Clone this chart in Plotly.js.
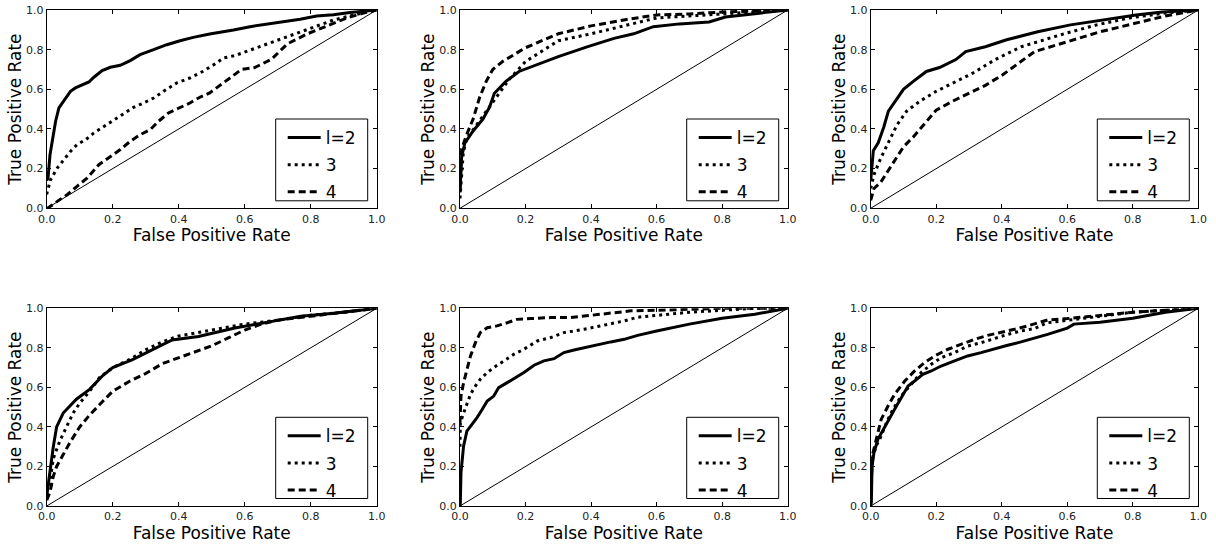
<!DOCTYPE html>
<html>
<head>
<meta charset="utf-8">
<script src="https://cdn.plot.ly/plotly-3.0.1.min.js"></script>
<style>html,body{margin:0;padding:0;background:#fff;}#chart{width:1216px;height:544px;}</style>
</head>
<body>
<div id="chart"></div>
<script>
// Series labels
const seriesNames = ['l=2', '3', '4'];
const tickVals = [0, 0.2, 0.4, 0.6, 0.8, 1.0];
const tickText = ['0.0', '0.2', '0.4', '0.6', '0.8', '1.0'];
const xTitle = 'False Positive Rate';
const yTitle = 'True Positive Rate';
const diagX = [0, 1];
const diagY = [0, 1];

// Panel 1 (top left)
const p1_l2_x = [0, 0.004, 0.010, 0.017, 0.027, 0.037, 0.047, 0.057, 0.072, 0.087, 0.108, 0.128, 0.143, 0.168, 0.193, 0.223, 0.253, 0.283, 0.324, 0.364, 0.404, 0.444, 0.494, 0.535, 0.566, 0.616, 0.667, 0.717, 0.768, 0.818, 0.869, 0.919, 0.97, 1];
const p1_l2_y = [0.14, 0.153, 0.27, 0.338, 0.439, 0.506, 0.531, 0.556, 0.590, 0.607, 0.624, 0.637, 0.661, 0.694, 0.711, 0.721, 0.745, 0.775, 0.800, 0.825, 0.845, 0.862, 0.879, 0.889, 0.899, 0.916, 0.929, 0.941, 0.953, 0.970, 0.976, 0.987, 0.995, 1];
const p1_l3_x = [0, 0.002, 0.012, 0.032, 0.052, 0.072, 0.092, 0.118, 0.143, 0.173, 0.203, 0.233, 0.263, 0.293, 0.324, 0.354, 0.394, 0.434, 0.474, 0.515, 0.535, 0.57, 0.67, 0.77, 0.82, 0.87, 0.93, 1];
const p1_l3_y = [0.07, 0.086, 0.145, 0.203, 0.245, 0.287, 0.321, 0.346, 0.380, 0.413, 0.447, 0.476, 0.509, 0.531, 0.556, 0.590, 0.632, 0.657, 0.691, 0.733, 0.758, 0.77, 0.83, 0.89, 0.92, 0.95, 0.975, 1];
const p1_l4_x = [0, 0.007, 0.032, 0.062, 0.092, 0.123, 0.158, 0.193, 0.223, 0.253, 0.283, 0.314, 0.339, 0.369, 0.404, 0.434, 0.464, 0.494, 0.535, 0.59, 0.63, 0.68, 0.73, 0.79, 0.85, 0.91, 0.97, 1];
const p1_l4_y = [0, 0.005, 0.035, 0.069, 0.111, 0.153, 0.220, 0.262, 0.296, 0.338, 0.371, 0.397, 0.439, 0.481, 0.506, 0.531, 0.560, 0.582, 0.632, 0.70, 0.71, 0.75, 0.83, 0.88, 0.92, 0.96, 0.99, 1];

// Panel 2 (top middle)
const p2_l2_x = [0, 0.002, 0.005, 0.015, 0.04, 0.07, 0.09, 0.105, 0.14, 0.18, 0.23, 0.30, 0.39, 0.47, 0.53, 0.59, 0.67, 0.76, 0.81, 0.9, 1];
const p2_l2_y = [0.08, 0.2, 0.26, 0.33, 0.39, 0.45, 0.51, 0.58, 0.64, 0.69, 0.72, 0.765, 0.815, 0.857, 0.88, 0.916, 0.93, 0.94, 0.965, 0.98, 1];
const p2_l3_x = [0, 0.01, 0.02, 0.05, 0.08, 0.11, 0.15, 0.2, 0.3, 0.4, 0.5, 0.6, 0.7, 0.8, 0.9, 1];
const p2_l3_y = [0.05, 0.28, 0.35, 0.42, 0.49, 0.56, 0.65, 0.74, 0.845, 0.88, 0.92, 0.96, 0.97, 0.98, 0.99, 1];
const p2_l4_x = [0, 0.005, 0.02, 0.04, 0.06, 0.08, 0.1, 0.13, 0.18, 0.2, 0.3, 0.4, 0.5, 0.6, 0.7, 0.8, 0.9, 1];
const p2_l4_y = [0.1, 0.3, 0.37, 0.45, 0.56, 0.64, 0.70, 0.74, 0.79, 0.81, 0.88, 0.92, 0.95, 0.975, 0.98, 0.99, 0.995, 1];

// Panel 3 (top right)
const p3_l2_x = [0, 0.008, 0.023, 0.04, 0.054, 0.08, 0.1, 0.13, 0.17, 0.21, 0.26, 0.29, 0.35, 0.415, 0.51, 0.61, 0.71, 0.81, 0.89, 1];
const p3_l2_y = [0.14, 0.29, 0.33, 0.41, 0.49, 0.55, 0.60, 0.64, 0.69, 0.71, 0.75, 0.79, 0.815, 0.85, 0.89, 0.925, 0.95, 0.975, 0.99, 1];
const p3_l3_x = [0, 0.01, 0.03, 0.05, 0.08, 0.11, 0.15, 0.2, 0.25, 0.31, 0.38, 0.46, 0.59, 0.69, 0.79, 0.9, 1];
const p3_l3_y = [0.1, 0.17, 0.25, 0.32, 0.42, 0.49, 0.54, 0.59, 0.63, 0.68, 0.75, 0.815, 0.88, 0.925, 0.96, 0.985, 1];
const p3_l4_x = [0, 0.01, 0.03, 0.05, 0.08, 0.1, 0.13, 0.17, 0.2, 0.25, 0.3, 0.35, 0.4, 0.45, 0.5, 0.6, 0.7, 0.8, 0.9, 1];
const p3_l4_y = [0.04, 0.1, 0.13, 0.18, 0.26, 0.31, 0.36, 0.44, 0.495, 0.54, 0.58, 0.62, 0.67, 0.73, 0.79, 0.84, 0.89, 0.93, 0.97, 1];

// Panel 4 (bottom left)
const p4_l2_x = [0, 0.01, 0.02, 0.03, 0.05, 0.09, 0.13, 0.17, 0.2, 0.26, 0.32, 0.38, 0.46, 0.57, 0.67, 0.77, 0.87, 0.97, 1];
const p4_l2_y = [0.05, 0.18, 0.30, 0.40, 0.47, 0.54, 0.59, 0.66, 0.70, 0.74, 0.79, 0.84, 0.857, 0.90, 0.93, 0.96, 0.975, 0.995, 1];
const p4_l3_x = [0, 0.01, 0.02, 0.04, 0.06, 0.08, 0.1, 0.13, 0.16, 0.2, 0.25, 0.3, 0.35, 0.4, 0.5, 0.6, 0.7, 0.8, 0.9, 1];
const p4_l3_y = [0.07, 0.13, 0.24, 0.33, 0.40, 0.47, 0.52, 0.58, 0.65, 0.70, 0.74, 0.79, 0.83, 0.86, 0.89, 0.92, 0.94, 0.965, 0.98, 1];
const p4_l4_x = [0, 0.01, 0.02, 0.03, 0.05, 0.07, 0.1, 0.13, 0.17, 0.2, 0.25, 0.3, 0.35, 0.4, 0.45, 0.5, 0.55, 0.6, 0.65, 0.7, 0.8, 0.9, 1];
const p4_l4_y = [0.03, 0.07, 0.15, 0.20, 0.26, 0.32, 0.40, 0.46, 0.53, 0.58, 0.63, 0.67, 0.72, 0.75, 0.78, 0.81, 0.85, 0.89, 0.92, 0.94, 0.96, 0.98, 1];

// Panel 5 (bottom middle)
const p5_l2_x = [0, 0.001, 0.003, 0.006, 0.011, 0.021, 0.037, 0.052, 0.068, 0.083, 0.103, 0.118, 0.144, 0.169, 0.195, 0.226, 0.256, 0.287, 0.317, 0.348, 0.379, 0.419, 0.460, 0.501, 0.542, 0.6, 0.7, 0.8, 0.9, 1];
const p5_l2_y = [0, 0.017, 0.169, 0.236, 0.304, 0.379, 0.413, 0.447, 0.489, 0.531, 0.556, 0.599, 0.624, 0.649, 0.675, 0.712, 0.734, 0.745, 0.776, 0.789, 0.801, 0.813, 0.830, 0.843, 0.863, 0.885, 0.92, 0.95, 0.97, 1];
const p5_l3_x = [0, 0.001, 0.011, 0.021, 0.032, 0.047, 0.062, 0.083, 0.103, 0.134, 0.164, 0.195, 0.236, 0.277, 0.317, 0.379, 0.440, 0.501, 0.542, 0.6, 0.7, 0.8, 0.9, 1];
const p5_l3_y = [0.3, 0.42, 0.47, 0.52, 0.565, 0.607, 0.641, 0.675, 0.70, 0.734, 0.767, 0.793, 0.835, 0.852, 0.877, 0.894, 0.914, 0.936, 0.955, 0.965, 0.98, 0.99, 1.0, 1];
const p5_l4_x = [0, 0.001, 0.003, 0.011, 0.021, 0.032, 0.047, 0.062, 0.083, 0.113, 0.144, 0.174, 0.215, 0.277, 0.338, 0.399, 0.460, 0.521, 0.6, 0.7, 0.8, 1];
const p5_l4_y = [0.42, 0.455, 0.556, 0.624, 0.691, 0.759, 0.826, 0.877, 0.902, 0.911, 0.927, 0.944, 0.948, 0.953, 0.953, 0.965, 0.978, 0.987, 0.99, 0.995, 1.0, 1];

// Panel 6 (bottom right)
const p6_l2_x = [0, 0.002, 0.004, 0.010, 0.022, 0.038, 0.053, 0.073, 0.093, 0.114, 0.134, 0.159, 0.185, 0.215, 0.256, 0.296, 0.337, 0.378, 0.418, 0.459, 0.499, 0.540, 0.6, 0.62, 0.7, 0.8, 0.9, 1];
const p6_l2_y = [0, 0.017, 0.20, 0.27, 0.337, 0.388, 0.43, 0.489, 0.548, 0.607, 0.632, 0.666, 0.683, 0.708, 0.734, 0.759, 0.776, 0.796, 0.813, 0.830, 0.847, 0.868, 0.90, 0.92, 0.93, 0.95, 0.98, 1];
const p6_l3_x = [0, 0.004, 0.017, 0.032, 0.048, 0.068, 0.093, 0.124, 0.154, 0.185, 0.215, 0.256, 0.296, 0.337, 0.378, 0.418, 0.459, 0.499, 0.540, 0.6, 0.7, 0.8, 0.9, 1];
const p6_l3_y = [0.1, 0.236, 0.304, 0.354, 0.422, 0.489, 0.556, 0.616, 0.675, 0.717, 0.750, 0.776, 0.809, 0.826, 0.847, 0.868, 0.885, 0.897, 0.927, 0.94, 0.96, 0.98, 0.99, 1];
const p6_l4_x = [0, 0.002, 0.007, 0.017, 0.032, 0.053, 0.073, 0.104, 0.134, 0.164, 0.195, 0.236, 0.276, 0.317, 0.357, 0.398, 0.439, 0.479, 0.540, 0.6, 0.7, 0.8, 0.9, 1];
const p6_l4_y = [0.1, 0.135, 0.27, 0.337, 0.438, 0.506, 0.565, 0.632, 0.683, 0.725, 0.759, 0.793, 0.818, 0.843, 0.863, 0.877, 0.894, 0.911, 0.941, 0.948, 0.965, 0.98, 0.99, 1];

const panels = [
  [[p1_l2_x, p1_l2_y], [p1_l3_x, p1_l3_y], [p1_l4_x, p1_l4_y]],
  [[p2_l2_x, p2_l2_y], [p2_l3_x, p2_l3_y], [p2_l4_x, p2_l4_y]],
  [[p3_l2_x, p3_l2_y], [p3_l3_x, p3_l3_y], [p3_l4_x, p3_l4_y]],
  [[p4_l2_x, p4_l2_y], [p4_l3_x, p4_l3_y], [p4_l4_x, p4_l4_y]],
  [[p5_l2_x, p5_l2_y], [p5_l3_x, p5_l3_y], [p5_l4_x, p5_l4_y]],
  [[p6_l2_x, p6_l2_y], [p6_l3_x, p6_l3_y], [p6_l4_x, p6_l4_y]]
];

const W = 1216, H = 544;
// plot-area pixel boxes [left, right, top, bottom]
const boxes = [
  [46.7, 376.7, 10, 208.3], [460, 787.7, 10, 208.3], [870.7, 1198.3, 10, 208.3],
  [46.7, 376.7, 308.3, 506], [460, 787.7, 308.3, 506], [870.7, 1198.3, 308.3, 506]
];
const dashes = ['solid', '3px,4px', '7px,4px'];
const FONT = 'DejaVu Sans, sans-serif';

const traces = [];
const shapes = [];
const layout = {
  width: W, height: H,
  margin: {l: 0, r: 0, t: 0, b: 0},
  paper_bgcolor: '#fff', plot_bgcolor: '#fff',
  font: {family: FONT, color: '#000'},
  showlegend: true,
  shapes: shapes
};

panels.forEach((series, i) => {
  const n = i + 1;
  const xa = n === 1 ? 'x' : 'x' + n;
  const ya = n === 1 ? 'y' : 'y' + n;
  const lg = n === 1 ? 'legend' : 'legend' + n;
  const b = boxes[i];
  series.forEach((s, k) => {
    traces.push({
      x: s[0], y: s[1], type: 'scatter', mode: 'lines',
      name: seriesNames[k], xaxis: xa, yaxis: ya, legend: lg,
      legendgroup: 'g' + n + '_' + k,
      line: {color: '#000', width: 3, dash: dashes[k]},
      hoverinfo: 'skip'
    });
  });
  traces.push({
    x: diagX, y: diagY, type: 'scatter', mode: 'lines', xaxis: xa, yaxis: ya,
    line: {color: '#000', width: 1}, showlegend: false, hoverinfo: 'skip'
  });
  const axCommon = {
    range: [0, 1], tickmode: 'array', tickvals: tickVals, ticktext: tickText,
    ticks: 'inside', ticklen: 4, tickcolor: '#000', tickwidth: 1,
    showline: true, linecolor: '#000', linewidth: 1, mirror: 'ticks',
    showgrid: false, zeroline: false, automargin: false, fixedrange: true,
    tickfont: {family: FONT, size: 11, color: '#222'}
  };
  layout[n === 1 ? 'xaxis' : 'xaxis' + n] = Object.assign({}, axCommon, {
    domain: [b[0] / W, b[1] / W], anchor: ya,
    title: {text: xTitle, font: {family: FONT, size: 17, color: '#000'}, standoff: 0}
  });
  layout[n === 1 ? 'yaxis' : 'yaxis' + n] = Object.assign({}, axCommon, {
    domain: [1 - b[3] / H, 1 - b[2] / H], anchor: xa,
    title: {text: yTitle, font: {family: FONT, size: 17, color: '#000'}, standoff: 0}
  });
  // legend frame
  const lL = b[1] - 101, lR = b[1] - 9, lT = b[2] + 109, lB = b[3] - 7.5;
  shapes.push({
    type: 'rect', xref: 'paper', yref: 'paper', layer: 'above',
    x0: lL / W, x1: lR / W, y0: 1 - lB / H, y1: 1 - lT / H,
    fillcolor: '#fff', line: {color: '#000', width: 1}
  });
  layout[lg] = {
    x: (lL + 7) / W, y: 1 - (lT + 1) / H, xanchor: 'left', yanchor: 'top',
    bgcolor: 'rgba(0,0,0,0)', borderwidth: 0,
    font: {family: FONT, size: 17, color: '#000'},
    tracegroupgap: 2, itemwidth: 33
  };
});

Plotly.newPlot('chart', traces, layout, {displayModeBar: false, staticPlot: true});
</script>
</body>
</html>
